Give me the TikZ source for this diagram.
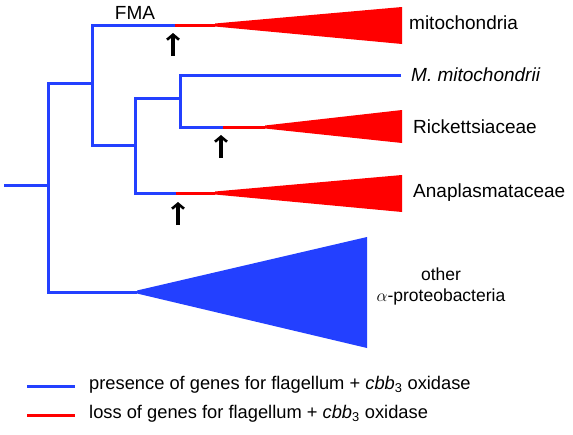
\documentclass[tikz,border=0pt]{standalone}
\usepackage{fontspec}
\setmainfont{Liberation Sans}
\usetikzlibrary{arrows.meta}
\definecolor{treeblue}{RGB}{35,64,255}
\definecolor{treered}{RGB}{255,0,0}
\tikzset{
  keep/.style={draw=treeblue, line width=3pt},
  lost/.style={draw=treered, line width=3pt},
  clade/.style={font=\fontsize{19}{21}\selectfont, anchor=west, inner sep=0pt},
  legendtext/.style={font=\fontsize{18.3}{20}\selectfont, anchor=west, inner sep=0pt},
  lossmark/.style={line width=3.2pt, -{Straight Barb[length=5pt,width=12pt,line width=2.6pt]}}
}
\begin{document}
\begin{tikzpicture}[x=1pt,y=-1pt]
  \useasboundingbox (0,0) rectangle (573,434);
  % joints of the tree
  \coordinate (r0) at (4,185);
  \coordinate (r1) at (48,185);
  \coordinate (n1) at (92,83);
  \coordinate (n2) at (135,145);
  \coordinate (n3) at (180,98);
  \coordinate (fma) at (175,25);
  \coordinate (rickL) at (223,127);
  \coordinate (anaL) at (176,193);
  \coordinate (mmit) at (401,75);
  \coordinate (othA) at (137,292);
  \coordinate (mitoT) at (215,25);
  \coordinate (rickT) at (265,127);
  \coordinate (anaT) at (215,193);
  % labels
  \node[font=\fontsize{19}{21}\selectfont, inner sep=0pt] (FMA) at (135,13) {FMA};
  \node[clade] (mito) at (409,23) {mitochondria};
  \node[clade] (mmitL) at (411,75) {\itshape M. mitochondrii};
  \node[clade] (rick) at (413,127) {Rickettsiaceae};
  \node[clade] (ana) at (413,193) {Anaplasmataceae};
  \node[clade, font=\fontsize{17.5}{21}\selectfont, anchor=center, align=center] (other) at (441,286) {other\\$\alpha$-proteobacteria};
  % blue branches
  \draw[keep] (r0) -- (r1);
  \draw[keep] (n1) -| (r1) |- (othA);
  \draw[keep] (fma) -| (n1) |- (n2);
  \draw[keep] (n3) -| (n2) |- (anaL);
  \draw[keep] (mmit) -| (n3) |- (rickL);
  \fill[treeblue] ([yshift=1.5pt]othA) -- (367,237) -- (367,348) -- ([yshift=-1.5pt]othA) -- cycle;
  % red branches
  \draw[lost] (fma) -- (mitoT);
  \fill[treered] ([yshift=1.5pt]mitoT) -- (402,7) -- (402,44) -- ([yshift=-1.5pt]mitoT) -- cycle;
  \draw[lost] (rickL) -- (rickT);
  \fill[treered] ([yshift=1.5pt]rickT) -- (402,110) -- (402,143) -- ([yshift=-1.5pt]rickT) -- cycle;
  \draw[lost] (anaL) -- (anaT);
  \fill[treered] ([yshift=1.5pt]anaT) -- (402,175) -- (402,212) -- ([yshift=-1.5pt]anaT) -- cycle;
  % arrows
  \coordinate (a1) at (173,56);
  \coordinate (a2) at (221,158);
  \coordinate (a3) at (178,225);
  \draw[lossmark] (a1) -- ++(0,-23);
  \draw[lossmark] (a2) -- ++(0,-23);
  \draw[lossmark] (a3) -- ++(0,-23);
  % legend
  \coordinate (k1) at (27,386);
  \coordinate (k2) at (75,386);
  \coordinate (k3) at (27,415);
  \coordinate (k4) at (75,415);
  \draw[keep] (k1) -- (k2);
  \draw[lost] (k3) -- (k4);
  \node[legendtext] (keepL) at (89,385) {presence of genes for flagellum + \textit{cbb}\textsubscript{3} oxidase};
  \node[legendtext] (lostL) at (89,414) {loss of genes for flagellum + \textit{cbb}\textsubscript{3} oxidase};
\end{tikzpicture}
\end{document}
